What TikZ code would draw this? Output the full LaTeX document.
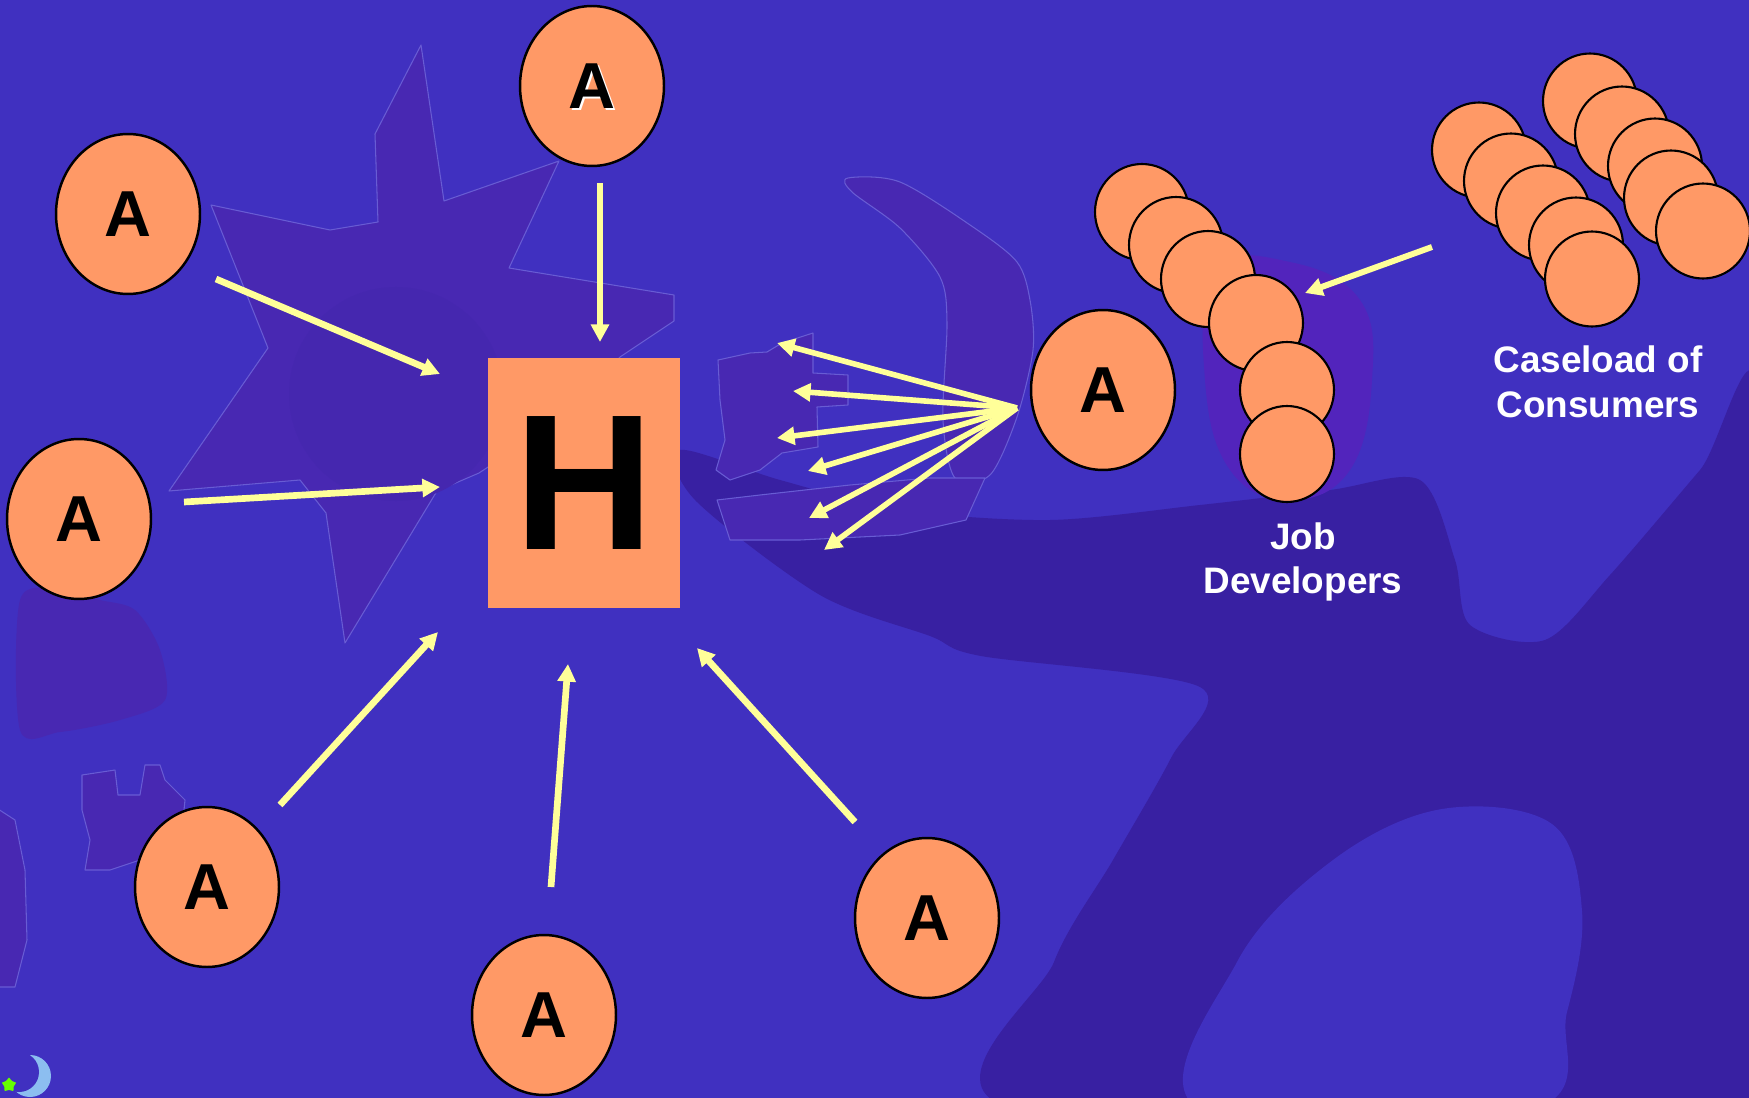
\documentclass[tikz,border=0pt]{standalone}
\usepackage{fontspec}
\setmainfont{Liberation Sans}
\usetikzlibrary{shapes.geometric,arrows.meta}
\definecolor{bgblue}{RGB}{64,48,192}
\definecolor{bgdark}{RGB}{56,32,162}
\definecolor{bgpurple}{RGB}{72,40,178}
\definecolor{bgglow}{RGB}{82,36,188}
\definecolor{bgline}{RGB}{104,92,212}
\definecolor{aorange}{RGB}{255,153,102}
\definecolor{ayellow}{RGB}{255,255,153}
\definecolor{moonblue}{RGB}{140,190,240}
\begin{document}
\begin{tikzpicture}[x=0.02cm, y=-0.02cm, line join=round,
		aball/.style={ellipse, draw=black, line width=1.4pt, fill=aorange, inner sep=0pt, minimum width=2.88cm, minimum height=3.2cm, font=\fontsize{37}{37}\selectfont\bfseries},
		dot/.style={ellipse, draw=black, line width=1.2pt, fill=aorange, inner sep=0pt, minimum width=1.88cm, minimum height=1.92cm},
		arr/.style={draw=ayellow, line width=3.8pt, -{Triangle[length=10pt,width=10pt]}},
		fanarr/.style={arr, line width=3.2pt},
		lbl/.style={text=white, align=center, font=\fontsize{21}{25.5}\selectfont\bfseries},
		shade/.style={fill=bgpurple, draw=bgline, line width=0.6pt}]
	\useasboundingbox (0,0) rectangle (1749,1098);
	\fill[bgblue] (0,0) rectangle (1749,1098);
	% background art
	\fill[bgdark] plot[smooth cycle, tension=0.5] coordinates {(680,450) (780,480) (900,510) (1050,520) (1200,505) (1330,490) (1420,480) (1455,560) (1470,625) (1545,640) (1610,575) (1700,470) (1760,400) (1760,1110) (1018,1110) (1054,962) (1113,860) (1171,758) (1200,687) (981,656) (930,636) (820,595) (695,500)};
	\fill[bgblue] plot[smooth cycle, tension=0.6] coordinates {(1201,1110) (1237,962) (1333,860) (1442,809) (1552,824) (1582,911) (1567,1012) (1530,1110)};
	\fill[bgglow] plot[smooth cycle, tension=0.7] coordinates {(1215,270) (1290,262) (1360,300) (1372,380) (1350,470) (1290,500) (1230,470) (1205,380)};
	\draw[shade] (421,45) -- (444,201) -- (559,161) -- (509,268) -- (674,295) -- (674,321) -- (620,357) -- (560,420) -- (479,473) -- (437,491) -- (345,643) -- (326,513) -- (300,480) -- (169,491) -- (268,348) -- (211,205) -- (330,230) -- (378,222) -- (375,134) -- cycle;
	\fill[bgpurple!80!bgdark] (396,394) circle (107);
	\draw[shade] plot[smooth cycle, tension=0.5] coordinates {(848,178) (900,182) (973,227) (1017,262) (1030,300) (1033,350) (1017,417) (990,475) (955,478) (943,420) (947,323) (940,277) (900,228) (852,192)};
	\draw[shade] (718,360) -- (750,353) -- (767,352) -- (782,343) -- (813,333) -- (813,373) -- (848,375) -- (848,405) -- (817,407) -- (818,447) -- (782,453) -- (760,470) -- (730,480) -- (716,470) -- (725,440) -- (720,400) -- cycle;
	\draw[shade] (717,500) -- (760,495) -- (850,485) -- (930,478) -- (985,478) -- (966,520) -- (900,535) -- (800,540) -- (730,540) -- cycle;
	\fill[bgpurple] plot[smooth cycle, tension=0.5] coordinates {(20,600) (60,590) (100,600) (135,610) (160,650) (165,700) (120,720) (60,732) (20,730)};
	\draw[shade] (82,775) -- (115,770) -- (118,795) -- (140,795) -- (145,765) -- (160,765) -- (165,780) -- (185,800) -- (180,850) -- (140,860) -- (110,870) -- (85,870) -- (90,840) -- (82,810) -- cycle;
	\draw[shade] (-2,809) -- (15,820) -- (25,870) -- (27,940) -- (15,987) -- (-2,987) -- cycle;
	\fill[moonblue] (30,1076) circle (21);
	\fill[bgblue] (19,1072) circle (20);
	\node[star, star points=5, fill=green!60!yellow, minimum size=0.3cm, inner sep=0pt] (tinystar) at (9,1085) {};
	% hub and agencies
	\node[fill=aorange, inner sep=0pt, minimum width=3.84cm, minimum height=5cm, font=\fontsize{110}{110}\selectfont\bfseries] (hub) at (584,483) {H};
	\node[aball] (aT) at (592,86) {};
	\node[text=white, font=\fontsize{37}{37}\selectfont\bfseries] (aTs) at ([shift={(2,2)}]aT.center) {A};
	\node[font=\fontsize{37}{37}\selectfont\bfseries] (aTl) at (aT.center) {A};
	\node[aball] (aUL) at (128,214) {A};
	\node[aball] (aL) at (79,519) {A};
	\node[aball] (aBL) at (207,887) {A};
	\node[aball] (aBM) at (544,1015) {A};
	\node[aball] (aBR) at (927,918) {A};
	\node[aball] (aR) at (1103,390) {A};
	% arrows into the hub
	\coordinate (s1) at (600,183); \coordinate (e1) at (600,342);
	\coordinate (s2) at (216,279); \coordinate (e2) at (440,374);
	\coordinate (s3) at (184,502); \coordinate (e3) at (440,487);
	\coordinate (s4) at (280,805); \coordinate (e4) at (438,632);
	\coordinate (s5) at (551,887); \coordinate (e5) at (568,664);
	\coordinate (s6) at (855,822); \coordinate (e6) at (697,648);
	\foreach \i in {1,...,6}{\draw[arr] (s\i) -- (e\i);}
	% fan out of the right agency
	\coordinate (fo) at (1017,408);
	\foreach \x/\y [count=\i] in {777/343,793/391,777/438,808/471,809/518,824/550}{
		\coordinate (f\i) at (\x,\y);
		\draw[fanarr] (fo) -- (f\i);}
	% job developers
	\foreach \x/\y [count=\i] in {1142/212,1176/245,1208/279,1256/323,1287/390,1287/454}{
		\node[dot] (jd\i) at (\x,\y) {};}
	% caseload
	\foreach \x/\y [count=\i] in {1590/101,1622/134,1655/166,1671/198,1703/231,1479/150,1511/181,1543/213,1576/245,1592/279}{
		\node[dot, minimum height=1.9cm] (cs\i) at (\x,\y) {};}
	\coordinate (cstart) at (1432,247); \coordinate (cend) at (1305,293);
	\draw[arr, line width=3.4pt] (cstart) -- (cend);
	\node[lbl] (jdlabel) at (1303,562) {Job\\Developers};
	\node[lbl] (cslabel) at (1598,382) {Caseload of\\Consumers};
\end{tikzpicture}
\end{document}
